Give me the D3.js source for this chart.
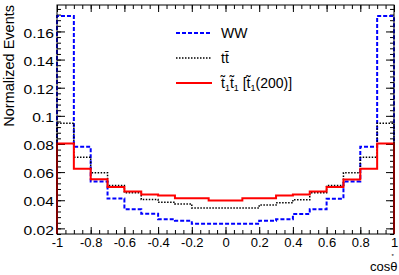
<!DOCTYPE html>
<meta charset="utf-8">
<script src="https://d3js.org/d3.v7.min.js"></script>
<style>
  body { margin: 0; background: #fff; }
  text { font-family: "Liberation Sans", Arial, sans-serif; }
</style>
<div id="my_dataviz"></div>
<script>

// bin edges of the cos(theta*) histograms
var binEdges = [-1, -0.9, -0.8, -0.7, -0.6, -0.5, -0.4, -0.3, -0.2, -0.1, 0,
                0.1, 0.2, 0.3, 0.4, 0.5, 0.6, 0.7, 0.8, 0.9, 1];

// normalized content of each bin
var wwValues   = [0.171, 0.078, 0.0534, 0.0412, 0.0336, 0.0304, 0.0265, 0.0254, 0.0232, 0.0232,
                  0.0232, 0.0232, 0.0254, 0.0265, 0.0302, 0.0336, 0.0411, 0.0534, 0.078, 0.171];
var ttValues   = [0.0948, 0.0705, 0.0596, 0.0505, 0.0454, 0.0405, 0.0386, 0.0374, 0.0345, 0.0345,
                  0.0345, 0.0345, 0.0366, 0.0382, 0.0404, 0.0454, 0.0505, 0.0595, 0.0705, 0.0948];
var stopValues = [0.0804, 0.0623, 0.0549, 0.0494, 0.0463, 0.0440, 0.0433, 0.0414, 0.0414, 0.0399,
                  0.0399, 0.0414, 0.0414, 0.0433, 0.0440, 0.0463, 0.0494, 0.0548, 0.0623, 0.0804];

var xTicks = [-1, -0.8, -0.6, -0.4, -0.2, 0, 0.2, 0.4, 0.6, 0.8, 1];
var yTicks = [0.02, 0.04, 0.06, 0.08, 0.1, 0.12, 0.14, 0.16];

var margin = {top: 5, right: 5, bottom: 41, left: 57},
  width = 399 - margin.left - margin.right,
  height = 275 - margin.top - margin.bottom;

var svg = d3.select("#my_dataviz")
  .append("svg")
    .attr("width", 399)
    .attr("height", 275)
  .append("g")
    .attr("transform", "translate(" + margin.left + "," + margin.top + ")");

var x = d3.scaleLinear().domain([-1, 1]).range([0, width]);
var y = d3.scaleLinear().domain([0.016, 0.1788]).range([height, 0]);

// minor tick positions (x every 0.05, y every 0.004)
var xMinor = d3.range(-1, 1.0001, 0.05);
var yMinor = d3.range(0.016, 0.1788, 0.004);

var fmtY = function(d) { return String(+d.toFixed(2)); };
var fmtX = function(d) { return String(+d.toFixed(1)); };

// bottom axis + mirrored top axis, ticks pointing inside
svg.append("g").attr("transform", "translate(0," + height + ")")
  .call(d3.axisBottom(x).tickValues(xMinor).tickSize(-4).tickFormat(""));
svg.append("g").attr("class", "xlab").attr("transform", "translate(0," + height + ")")
  .call(d3.axisBottom(x).tickValues(xTicks).tickSize(-7).tickPadding(4).tickFormat(fmtX));
svg.append("g")
  .call(d3.axisTop(x).tickValues(xMinor).tickSize(-4).tickFormat(""));
svg.append("g")
  .call(d3.axisTop(x).tickValues(xTicks).tickSize(-7).tickFormat(""));

// left axis + mirrored right axis
svg.append("g")
  .call(d3.axisLeft(y).tickValues(yMinor).tickSize(-4).tickFormat(""));
svg.append("g").attr("class", "ylab")
  .call(d3.axisLeft(y).tickValues(yTicks).tickSize(-8).tickPadding(3).tickFormat(fmtY));
svg.append("g").attr("transform", "translate(" + width + ",0)")
  .call(d3.axisRight(y).tickValues(yMinor).tickSize(-4).tickFormat(""));
svg.append("g").attr("transform", "translate(" + width + ",0)")
  .call(d3.axisRight(y).tickValues(yTicks).tickSize(-8).tickFormat(""));

svg.selectAll(".domain").remove();
svg.selectAll(".tick line").attr("stroke", "#000");
svg.selectAll(".xlab text")
  .style("font-size", "13px")
  .style("font-family", "Liberation Sans, Arial, sans-serif")
  .attr("fill", "#000");
// ROOT's y labels come out wide, stretch them a bit
svg.selectAll(".ylab text")
  .style("font-size", "12.5px")
  .style("font-family", "Liberation Sans, Arial, sans-serif")
  .attr("fill", "#000")
  .attr("x", -2.5)
  .attr("dy", "0.45em")
  .attr("transform", "scale(1.25,1)");

// the histograms, drawn as ROOT outlines starting from the frame bottom
function histPath(values) {
  var pts = [[x(binEdges[0]), y(y.domain()[0])]];
  values.forEach(function(v, i) {
    pts.push([x(binEdges[i]), y(v)]);
    pts.push([x(binEdges[i + 1]), y(v)]);
  });
  pts.push([x(binEdges[binEdges.length - 1]), y(y.domain()[0])]);
  return d3.line()(pts);
}

var series = [
  {name: "WW", values: wwValues, color: "#0000ff", width: 2, dash: "4,2"},
  {name: "tt", values: ttValues, color: "#000000", width: 1.5, dash: "1.5,1.5"},
  {name: "stop", values: stopValues, color: "#ff0000", width: 2, dash: null}
];

svg.selectAll("myPath")
  .data(series)
  .enter()
  .append("path")
    .attr("d", function(d) { return histPath(d.values); })
    .style("fill", "none")
    .style("stroke", function(d) { return d.color; })
    .style("stroke-width", function(d) { return d.width; })
    .style("stroke-dasharray", function(d) { return d.dash; });

// frame
svg.append("rect")
  .attr("x", 0).attr("y", 0)
  .attr("width", width).attr("height", height)
  .style("fill", "none").style("stroke", "#000").style("stroke-width", 1);

// legend
var legendY = [28, 53, 78];
var leg = svg.selectAll("myLegend")
  .data(series)
  .enter()
  .append("g")
    .attr("transform", function(d, i) { return "translate(119," + legendY[i] + ")"; });
leg.append("line")
  .attr("x1", 0).attr("x2", 36)
  .style("stroke", function(d) { return d.color; })
  .style("stroke-width", function(d) { return d.width; })
  .style("stroke-dasharray", function(d) { return d.dash; });

var lt = leg.append("text")
  .attr("x", 45).attr("y", 5)
  .style("font-size", "14px")
  .attr("fill", "#000");
lt.filter(function(d) { return d.name == "WW"; }).text("WW");
lt.filter(function(d) { return d.name == "tt"; }).text("tt\u0304");
var st = lt.filter(function(d) { return d.name == "stop"; });
st.append("tspan").text("t\u0303");
st.append("tspan").attr("dy", 3).style("font-size", "9px").text("1");
st.append("tspan").attr("dy", -3).text("t\u0303");
st.append("tspan").attr("dy", 3).style("font-size", "9px").text("1");
st.append("tspan").attr("dy", -3).text(" [t\u0303");
st.append("tspan").attr("dy", 3).style("font-size", "9px").text("1");
st.append("tspan").attr("dy", -3).text("(200)]");

// axis titles
svg.append("text")
  .attr("transform", "rotate(-90)")
  .attr("x", 0).attr("y", -43)
  .style("text-anchor", "end")
  .style("font-size", "14.5px")
  .attr("fill", "#000")
  .text("Normalized Events");

var xt = svg.append("text")
  .attr("x", width - 24).attr("y", height + 37)
  .style("font-size", "13px")
  .attr("fill", "#000");
xt.append("tspan").text("cos\u03B8");
xt.append("tspan").attr("dx", -6).attr("dy", -13.5).style("font-size", "6px").text("*");

</script>
